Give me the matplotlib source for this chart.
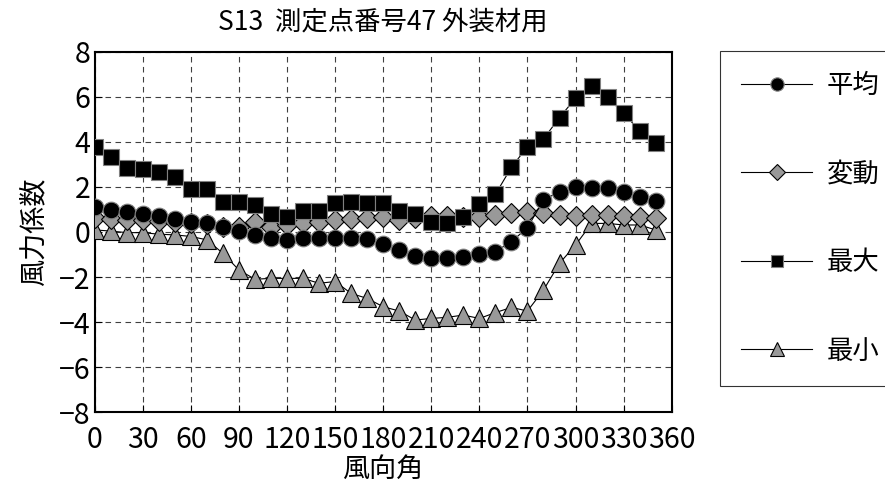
import numpy as np
import matplotlib.pyplot as plt

plt.rcParams['font.family'] = ['Noto Sans CJK JP', 'DejaVu Sans']

# wind direction (deg)
angle = np.arange(0, 360, 10)

mean = [1.1, 0.98, 0.88, 0.8, 0.73, 0.58, 0.46, 0.38, 0.2, 0.04,
        -0.13, -0.28, -0.35, -0.25, -0.25, -0.25, -0.25, -0.33, -0.53, -0.8,
        -1.07, -1.14, -1.17, -1.1, -0.99, -0.87, -0.43, 0.19, 1.42, 1.79,
        2.0, 1.97, 1.94, 1.79, 1.57, 1.38]
fluct = [0.61, 0.58, 0.53, 0.53, 0.49, 0.46, 0.41, 0.34, 0.24, 0.24,
         0.46, 0.24, 0.3, 0.41, 0.46, 0.53, 0.58, 0.61, 0.66, 0.53,
         0.6, 0.72, 0.7, 0.65, 0.68, 0.75, 0.85, 0.9, 0.85, 0.75,
         0.7, 0.75, 0.75, 0.7, 0.65, 0.6]
cmax = [3.77, 3.35, 2.86, 2.8, 2.68, 2.46, 1.91, 1.91, 1.35, 1.35,
        1.2, 0.78, 0.68, 0.93, 0.93, 1.27, 1.35, 1.27, 1.27, 0.95,
        0.78, 0.46, 0.41, 0.68, 1.23, 1.67, 2.87, 3.79, 4.13, 5.08,
        5.94, 6.5, 5.97, 5.27, 4.49, 3.94]
cmin = [0.09, 0.04, -0.03, -0.03, -0.1, -0.13, -0.2, -0.35, -0.95, -1.69,
        -2.1, -2.06, -2.06, -2.06, -2.28, -2.2, -2.73, -2.95, -3.32, -3.51,
        -3.91, -3.84, -3.79, -3.69, -3.84, -3.58, -3.35, -3.51, -2.58, -1.39,
        -0.58, 0.38, 0.38, 0.31, 0.31, 0.09]

labels = ['平均', '変動', '最大', '最小']
xticks = np.arange(0, 361, 30)
yticks = np.arange(-8, 9, 2)

fig = plt.figure(figsize=(8.85, 4.93), dpi=100)
ax = fig.add_axes([0.107, 0.164, 0.652, 0.731])

ax.plot(angle, cmin, color='black', lw=0.8, marker='^', ms=13,
        mfc='#999999', mec='black', mew=0.8, label=labels[3], zorder=3)
ax.plot(angle, cmax, color='black', lw=0.8, marker='s', ms=11.5,
        mfc='black', mec='#808080', mew=0.8, label=labels[2], zorder=4)
ax.plot(angle, fluct, color='black', lw=0.8, marker='D', ms=10.5,
        mfc='#999999', mec='black', mew=0.8, label=labels[1], zorder=3)
ax.plot(angle, mean, color='black', lw=0.8, marker='o', ms=12,
        mfc='black', mec='#808080', mew=0.8, label=labels[0], zorder=5)

ax.set_xlim(0, 360)
ax.set_ylim(-8, 8)
ax.set_xticks(xticks)
ax.set_yticks(yticks)
ax.set_yticklabels([str(v).replace('-', '\u2212') for v in yticks])
ax.tick_params(direction='in', labelsize=20.5, length=5, width=0.8, pad=3)
ax.tick_params(axis='x', pad=9)
ax.grid(True, ls=(0, (5, 4)), color='#404040', lw=0.8)
for s in ax.spines.values():
    s.set_linewidth(1.5)

ax.set_title('S13  測定点番号47 外装材用', fontsize=19, pad=16)
ax.set_xlabel('風向角', fontsize=19.5, labelpad=1)
ax.set_ylabel('風力係数', fontsize=19.5, labelpad=8)

h, l = ax.get_legend_handles_labels()
order = [3, 2, 1, 0]
leg = fig.legend([h[i] for i in order], [l[i] for i in order],
                 loc='upper left', bbox_to_anchor=(720 / 885, 1 - 51 / 493),
                 fontsize=19, labelspacing=2.33, handlelength=2.7,
                 markerscale=0.8, fancybox=False, edgecolor='black',
                 borderpad=0.8, handletextpad=0.55, borderaxespad=0)
leg.get_frame().set_linewidth(0.8)

fig.savefig('out.png', dpi=100)
